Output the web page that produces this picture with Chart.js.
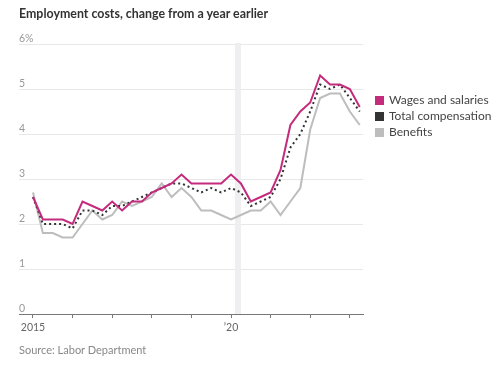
<!DOCTYPE html>
<html>
<head>
<meta charset="utf-8">
<script src="https://cdn.jsdelivr.net/npm/chart.js@4"></script>
<style>
  body { margin: 0; background: #fff; }
  #wrap { position: relative; width: 500px; height: 365px; font-family: Lato, "Noto Sans", sans-serif; }
  #chart { position: absolute; left: 0; top: 0; }
  .title { position: absolute; left: 19px; top: 6px; font-size: 12.4px; font-weight: bold; color: #333; }
  .source { position: absolute; left: 19px; top: 343px; font-size: 11px; color: #888; }
  #legend { position: absolute; left: 375px; top: 92px; font-size: 12px; color: #444; }
  #legend div { height: 16px; line-height: 16px; white-space: nowrap; }
  #legend span { display: inline-block; width: 9px; height: 9px; margin-right: 5px; vertical-align: -1px; }
</style>
</head>
<body>
<div id="wrap">
  <canvas id="chart" width="500" height="365"></canvas>
  <div class="title">Employment costs, change from a year earlier</div>
  <div id="legend"></div>
  <div class="source">Source: Labor Department</div>
</div>
<script>
// Quarterly, 2015 Q1 .. 2023 Q2
const startYear = 2015;
const seriesNames = ['Wages and salaries', 'Total compensation', 'Benefits'];
const wages = [2.6, 2.1, 2.1, 2.1, 2.0, 2.5, 2.4, 2.3, 2.5, 2.3, 2.5, 2.5, 2.7, 2.8, 2.9, 3.1,
  2.9, 2.9, 2.9, 2.9, 3.1, 2.9, 2.5, 2.6, 2.7, 3.2, 4.2, 4.5, 4.7, 5.3, 5.1, 5.1, 5.0, 4.6];
const totalComp = [2.6, 2.0, 2.0, 2.0, 1.9, 2.3, 2.3, 2.2, 2.4, 2.4, 2.5, 2.6, 2.7, 2.8, 2.9, 2.9,
  2.8, 2.7, 2.8, 2.7, 2.8, 2.7, 2.4, 2.5, 2.6, 3.0, 3.7, 4.0, 4.5, 5.1, 5.0, 5.1, 4.8, 4.5];
const benefits = [2.7, 1.8, 1.8, 1.7, 1.7, 2.0, 2.3, 2.1, 2.2, 2.5, 2.4, 2.5, 2.6, 2.9, 2.6, 2.8,
  2.6, 2.3, 2.3, 2.2, 2.1, 2.2, 2.3, 2.3, 2.5, 2.2, 2.5, 2.8, 4.1, 4.8, 4.9, 4.9, 4.5, 4.2];
const yTicks = [0, 1, 2, 3, 4, 5, 6];
const xLabels = { 2015: '2015', 2020: '\u201920' };
const recession = [2020.1, 2020.25];

const colors = ['#c42b7d', '#333333', '#bdbdbd'];

const toPoints = arr => arr.map((v, i) => ({ x: startYear + i / 4, y: v }));

// Shaded recession band
const bandPlugin = {
  id: 'band',
  beforeDatasetsDraw(chart) {
    const { ctx, chartArea, scales } = chart;
    const x0 = scales.x.getPixelForValue(recession[0]);
    const x1 = scales.x.getPixelForValue(recession[1]);
    ctx.save();
    ctx.fillStyle = '#efeff2';
    ctx.fillRect(x0, chartArea.top - 1, x1 - x0, chartArea.bottom - chartArea.top + 1);
    ctx.restore();
  }
};

const chart = new Chart(document.getElementById('chart'), {
  type: 'line',
  data: {
    datasets: [
      { label: seriesNames[0], data: toPoints(wages), borderColor: colors[0], borderWidth: 2 },
      { label: seriesNames[1], data: toPoints(totalComp), borderColor: colors[1], borderWidth: 2, borderDash: [2, 3] },
      { label: seriesNames[2], data: toPoints(benefits), borderColor: colors[2], borderWidth: 2 }
    ]
  },
  options: {
    responsive: false,
    animation: false,
    layout: { padding: { left: 19, right: 137, top: 44, bottom: 31 } },
    elements: { point: { radius: 0 }, line: { tension: 0 } },
    plugins: { legend: { display: false }, tooltip: { enabled: false } },
    scales: {
      x: {
        type: 'linear',
        min: startYear - 0.353,
        max: startYear + 33.33 / 4,
        afterBuildTicks: s => { s.ticks = []; for (let y = 2015; y <= 2023; y++) s.ticks.push({ value: y }); },
        afterFit: s => { s.height = 20; },
        grid: { drawOnChartArea: false, drawTicks: true, tickLength: 4, color: '#777' },
        border: { display: true, color: '#777' },
        ticks: {
          autoSkip: false, maxRotation: 0, padding: 3,
          color: '#666', font: { family: 'Lato', size: 10.5 },
          callback: v => xLabels[v] || ''
        }
      },
      y: {
        min: 0, max: 6,
        afterBuildTicks: s => { s.ticks = yTicks.map(v => ({ value: v })); },
        afterFit: s => { s.width = 0; },
        grid: { color: '#e8e8e8', drawTicks: false },
        border: { display: false },
        ticks: {
          mirror: true, padding: 0, labelOffset: -5.5,
          color: '#999', font: { family: 'Lato', size: 10.5 },
          callback: v => v === 6 ? v + '%' : v
        }
      }
    }
  },
  plugins: [bandPlugin]
});

// HTML legend
const legend = document.getElementById('legend');
chart.data.datasets.forEach((ds, i) => {
  const row = document.createElement('div');
  row.innerHTML = `<span style="background:${colors[i]}"></span>${ds.label}`;
  legend.appendChild(row);
});
</script>
</body>
</html>
